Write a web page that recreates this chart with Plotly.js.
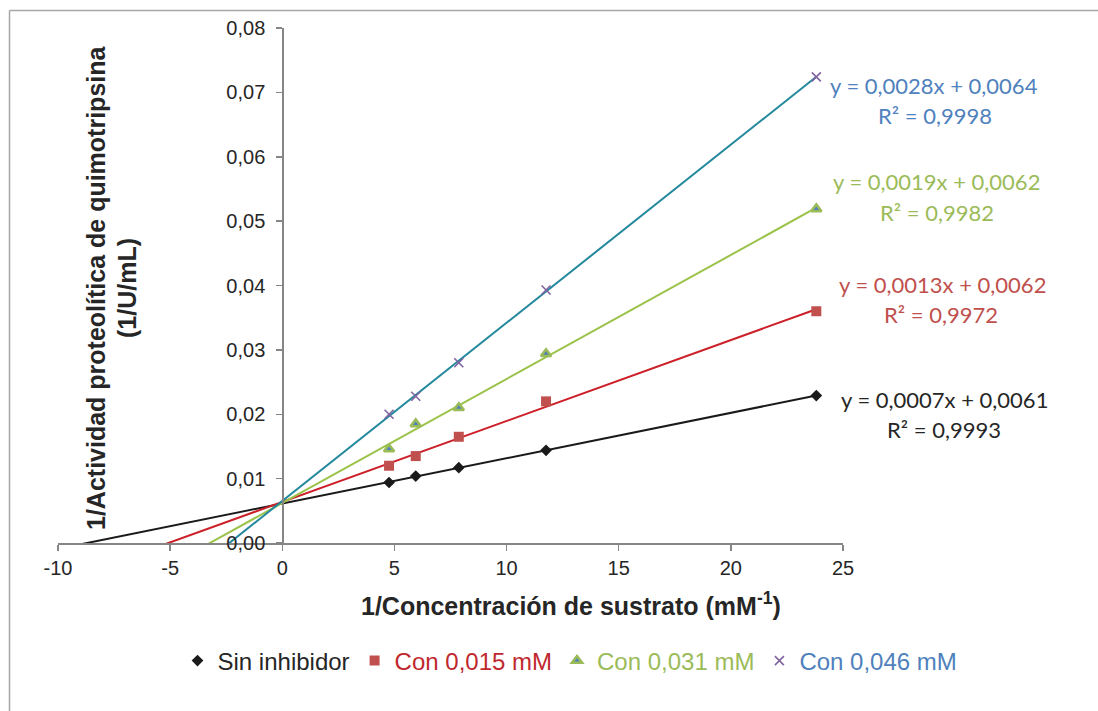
<!DOCTYPE html>
<html>
<head>
<meta charset="utf-8">
<script src="https://cdn.plot.ly/plotly-3.0.1.min.js"></script>
<style>
html,body{margin:0;padding:0;background:#fff;}
#chart{width:1098px;height:711px;}
</style>
</head>
<body>
<div id="chart"></div>
<script>
// ---- data ----
var xSubstrate = [4.76, 5.95, 7.87, 11.76, 23.81];
var sinInhibidor = [0.0094, 0.0104, 0.0117, 0.0144, 0.0229];
var con015 = [0.0120, 0.0135, 0.0165, 0.0220, 0.0360];
var con031 = [0.0146, 0.0185, 0.0210, 0.0294, 0.0519];
var con046 = [0.0200, 0.0228, 0.0280, 0.0393, 0.0724];
var seriesNames = ["Sin inhibidor", "Con 0,015 mM", "Con 0,031 mM", "Con 0,046 mM"];
var equations = ["y = 0,0007x + 0,0061", "y = 0,0013x + 0,0062", "y = 0,0019x + 0,0062", "y = 0,0028x + 0,0064"];
var r2Labels = ["R² = 0,9993", "R² = 0,9972", "R² = 0,9982", "R² = 0,9998"];
var xTickVals = [-10, -5, 0, 5, 10, 15, 20, 25];
var xTickText = ["-10", "-5", "0", "5", "10", "15", "20", "25"];
var yTickVals = [0, 0.01, 0.02, 0.03, 0.04, 0.05, 0.06, 0.07, 0.08];

// ---- geometry ----
var W = 1098, H = 711;
var M = {l: 58, r: 1098 - 843, t: 28, b: 711 - 543};
var PW = W - M.l - M.r, PH = H - M.t - M.b;
function px(X){ return (X - M.l) / PW; }
function py(Y){ return (H - M.b - Y) / PH; }

var ys = [sinInhibidor, con015, con031, con046];
var markerColors = ['#1a1a1a', '#c0504d', '#4f81bd', '#8064a2'];
var textColors = ['#262626', '#c0282d', '#9bbb59', '#4f81bd'];
var lineColors = ['#1a1a1a', '#cc1f27', '#9bc34a', '#23889c'];
var eqColors = ['#262626', '#c0504d', '#9bbb59', '#4f81bd'];
var symbols = ['diamond', 'square', 'triangle-up', 'x-thin-open'];
var sizes = [9, 10, 10, 9];

function fit(x, y){
  var n = x.length, sx=0, sy=0, sxx=0, sxy=0;
  for (var i=0;i<n;i++){ sx+=x[i]; sy+=y[i]; sxx+=x[i]*x[i]; sxy+=x[i]*y[i]; }
  var m = (n*sxy - sx*sy)/(n*sxx - sx*sx);
  var b = (sy - m*sx)/n;
  return {m:m, b:b};
}

var traces = [];
for (var s=0; s<4; s++){
  var f = fit(xSubstrate, ys[s]);
  var x0 = xTickVals[0], x1 = xSubstrate[xSubstrate.length-1];
  traces.push({
    x: [x0, x1], y: [f.m*x0 + f.b, f.m*x1 + f.b],
    mode: 'lines', type: 'scatter', showlegend: false, hoverinfo: 'skip',
    line: {color: lineColors[s], width: 2}
  });
}
for (var s=0; s<4; s++){
  var mk = {symbol: symbols[s], size: sizes[s], color: markerColors[s]};
  if (s === 2) { mk.line = {color: '#9bbb59', width: 2.5}; mk.color = '#4f81bd'; mk.size = 9; }
  if (s === 3) { mk.line = {color: '#8064a2', width: 1.6}; }
  traces.push({
    x: xSubstrate, y: ys[s], mode: 'markers', type: 'scatter',
    name: '<span style="color:' + textColors[s] + '">' + seriesNames[s] + '</span>',
    marker: mk
  });
}

var eqPos = [[944, 399, 944, 429], [942, 284, 941, 314], [936, 181, 937, 212], [934, 85, 935, 115]];
var eqFont = 'Lato, Open Sans, sans-serif';
var annotations = [];
for (var s=0; s<4; s++){
  annotations.push({xref:'paper', yref:'paper', x: px(eqPos[s][0]), y: py(eqPos[s][1]),
    xanchor:'center', yanchor:'middle', showarrow:false, text: equations[s],
    font:{family: eqFont, size:22, color: eqColors[s]}});
  annotations.push({xref:'paper', yref:'paper', x: px(eqPos[s][2]), y: py(eqPos[s][3]),
    xanchor:'center', yanchor:'middle', showarrow:false, text: r2Labels[s],
    font:{family: eqFont, size:22, color: eqColors[s]}});
}
var titleFont = {family:'Liberation Sans, Arial, sans-serif', size:25, color:'#262626'};
annotations.push({xref:'paper', yref:'paper', x: px(571), y: py(604), xanchor:'center', yanchor:'middle',
  showarrow:false, text:'<b>1/Concentración de sustrato (mM<sup>-1</sup>)</b>', font: titleFont});
annotations.push({xref:'paper', yref:'paper', x: px(96), y: py(288), xanchor:'center', yanchor:'middle',
  showarrow:false, textangle:-90, text:'<b>1/Actividad proteolítica de quimotripsina</b>', font: titleFont});
annotations.push({xref:'paper', yref:'paper', x: px(127), y: py(288), xanchor:'center', yanchor:'middle',
  showarrow:false, textangle:-90, text:'<b>(1/U/mL)</b>', font: titleFont});

var layout = {
  width: W, height: H, margin: M,
  paper_bgcolor: '#ffffff', plot_bgcolor: '#ffffff',
  separators: ',.',
  showlegend: true,
  legend: {orientation:'h', x: px(570), y: py(661), xanchor:'center', yanchor:'middle',
    font:{family:'Liberation Sans, Arial, sans-serif', size:24, color:'#262626'}, itemwidth:30},
  font: {family:'Liberation Sans, Arial, sans-serif', color:'#262626'},
  xaxis: {range:[-10, 25], tickvals: xTickVals, ticktext: xTickText, ticks:'outside', ticklen:6, tickwidth:1.5, tickcolor:'#868686',
    showline:true, linecolor:'#868686', linewidth:1.5, showgrid:false, zeroline:false,
    tickfont:{size:20, color:'#262626'}},
  yaxis: {range:[0, 0.08], tickvals: yTickVals, tickformat:'.2f', ticks:'outside', ticklen:6, tickwidth:1.5,
    tickcolor:'#868686', showline:true, linecolor:'#868686', linewidth:1.5, showgrid:false, zeroline:false,
    anchor:'free', position: 10/35, ticklabelstandoff: 7, tickfont:{size:20, color:'#262626'}},
  annotations: annotations,
  shapes: [
    {type:'line', xref:'paper', yref:'paper', x0: px(9.5), x1: px(1100), y0: py(10.5), y1: py(10.5), line:{color:'#a6a6a6', width:1.5}},
    {type:'line', xref:'paper', yref:'paper', x0: px(9.5), x1: px(9.5), y0: py(10.5), y1: py(715), line:{color:'#a6a6a6', width:1.5}}
  ]
};

Plotly.newPlot('chart', traces, layout, {displayModeBar:false, staticPlot:true});
</script>
</body>
</html>
